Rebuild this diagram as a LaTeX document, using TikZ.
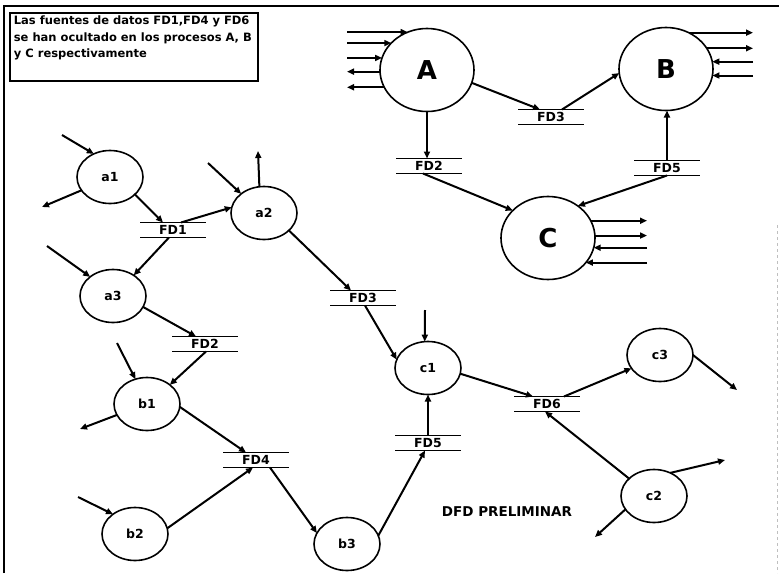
\documentclass[tikz,border=0pt]{standalone}
\usepackage{fontspec}
\setmainfont{DejaVu Sans}
\usetikzlibrary{arrows.meta,shapes.geometric}

\tikzset{
  flow/.style={line width=2pt,-{Triangle[length=7pt,width=6pt]}},
  proc/.style={ellipse,draw,line width=1.6pt,minimum width=66pt,minimum height=53pt,
    inner sep=0pt,outer sep=0pt,font=\fontsize{12.5}{13}\selectfont\bfseries},
  bigproc/.style={proc,minimum width=94pt,minimum height=83pt,font=\fontsize{26}{28}\selectfont\bfseries},
  store/.style={minimum width=66pt,minimum height=15pt,inner sep=0pt,outer sep=0pt,
    font=\fontsize{12.5}{13}\selectfont\bfseries},
}

\begin{document}
\begin{tikzpicture}[x=1pt,y=-1pt]
\useasboundingbox (0,0) rectangle (779,573);

% marco
\draw[line width=1.8pt] (4,573) -- (4,6) -- (779,6);
\draw[gray!50,dashed] (777,225) -- (777,573);

% nota
\node[draw,line width=1.8pt,anchor=north west,inner xsep=4pt,inner ysep=3pt] (nota) at (9,12)
  {\parbox[t][62pt][t]{240pt}{\fontsize{11.5}{16.5}\selectfont\bfseries
   Las fuentes de datos FD1,FD4 y FD6\\
   se han ocultado en los procesos A, B\\
   y C respectivamente}};

% DFD preliminar
\node[proc] (a1) at (110,177) {a1};
\node[proc] (a2) at (264,213) {a2};
\node[proc] (a3) at (113,296) {a3};
\node[proc] (b1) at (147,404) {b1};
\node[proc] (b2) at (135,534) {b2};
\node[proc] (b3) at (347,544) {b3};
\node[proc] (c1) at (428,368) {c1};
\node[proc] (c3) at (660,355) {c3};
\node[proc] (c2) at (654,496) {c2};

\node[store] (fd1) at (173,230) {FD1};
\node[store] (fd2) at (205,344) {FD2};
\node[store] (fd3) at (363,298) {FD3};
\node[store] (fd4) at (256,460) {FD4};
\node[store] (fd5) at (428,443) {FD5};
\node[store] (fd6) at (547,404) {FD6};

\node[font=\fontsize{13.5}{14}\selectfont\bfseries] (titulo) at (507,512) {DFD PRELIMINAR};

% DFD con almacenes ocultos
\node[bigproc] (A) at (427,70) {A};
\node[bigproc] (B) at (666,69) {B};
\node[bigproc] (C) at (548,238) {C};

\node[store] (FD3) at (551,117) {FD3};
\node[store] (FD2) at (429,166) {FD2};
\node[store] (FD5) at (667,168) {FD5};

\foreach \s in {fd1,fd2,fd3,fd4,fd5,fd6,FD2,FD3,FD5}
  \draw[line width=1.6pt] (\s.north west) -- (\s.north east) (\s.south west) -- (\s.south east);

% extremos libres
\coordinate (ina1) at (62,135);
\coordinate (outa1) at (42,207);
\coordinate (ina2) at (208,163);
\coordinate (outa2) at (258,151);
\coordinate (ina3) at (47,246);
\coordinate (inb1) at (117,343);
\coordinate (outb1) at (80,429);
\coordinate (inb2) at (78,497);
\coordinate (inc1) at (425,310);
\coordinate (outc3) at (737,390);
\coordinate (outc2a) at (725,460);
\coordinate (outc2b) at (595,537);
\coordinate (extA) at (347,0);
\coordinate (extB) at (753,0);
\coordinate (extC) at (647,0);

% flujos
\draw[flow] (ina1) -- (a1.125);
\draw[flow] (a1.205) -- (outa1);
\draw[flow] (a1.-35) -- ([xshift=-10pt]fd1.north);
\draw[flow] ([xshift=8pt]fd1.north) -- (a2.170);
\draw[flow] (ina2) -- (a2.140);
\draw[flow] (a2.100) -- (outa2);
\draw[flow] (a2.-35) -- ([xshift=-12pt]fd3.north);
\draw[flow] ([xshift=-4pt]fd1.south) -- (a3.45);
\draw[flow] (ina3) -- (a3.140);
\draw[flow] (a3.-20) -- ([xshift=-9pt]fd2.north);
\draw[flow] ([xshift=1pt]fd2.south) -- (b1.40);
\draw[flow] (inb1) -- (b1.115);
\draw[flow] (b1.200) -- (outb1);
\draw[flow] (b1.-5) -- ([xshift=-10pt]fd4.north);
\draw[flow] (b2.10) -- ([xshift=-3pt]fd4.south);
\draw[flow] (inb2) -- (b2.138);
\draw[flow] ([xshift=14pt]fd4.south) -- (b3.160);
\draw[flow] (b3.15) -- ([xshift=-3pt]fd5.south);
\draw[flow] (fd5.north) -- (c1.south);
\draw[flow] ([xshift=2pt]fd3.south) -- (c1.165);
\draw[flow] (inc1) -- (c1.97);
\draw[flow] (c1.-10) -- ([xshift=-14pt]fd6.north);
\draw[flow] ([xshift=17pt]fd6.north) -- (c3.205);
\draw[flow] (c3.0) -- (outc3);
\draw[flow] (c2.145) -- ([xshift=-2pt]fd6.south);
\draw[flow] (c2.55) -- (outc2a);
\draw[flow] (c2.205) -- (outc2b);

\draw[flow] (A.-16) -- ([xshift=-11pt]FD3.north);
\draw[flow] ([xshift=11pt]FD3.north) -- (B.185);
\draw[flow] (A.south) -- (A.south |- FD2.north);
\draw[flow] ([xshift=-6pt]FD2.south) -- (C.142);
\draw[flow] (FD5.north) -- (FD5.north |- B.south);
\draw[flow] (FD5.south) -- (C.47);

\foreach \ang in {117.8,143.1,165.1}
  \draw[flow] (A.\ang -| extA) -- (A.\ang);
\foreach \ang in {182.4,202.9}
  \draw[flow] (A.\ang) -- (A.\ang -| extA);
\foreach \ang in {58,27.5}
  \draw[flow] (B.\ang) -- (B.\ang -| extB);
\foreach \ang in {9.8,-8.6}
  \draw[flow] (B.\ang -| extB) -- (B.\ang);
\foreach \ang in {22.9,3.7}
  \draw[flow] (C.\ang) -- (C.\ang -| extC);
\foreach \ang in {-12.4,-33.5}
  \draw[flow] (C.\ang -| extC) -- (C.\ang);

\end{tikzpicture}
\end{document}
